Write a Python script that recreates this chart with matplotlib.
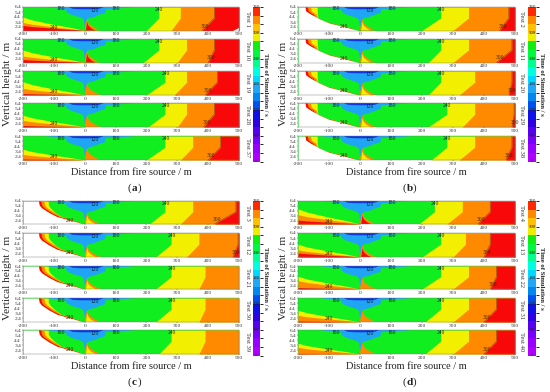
import numpy as np
import matplotlib
matplotlib.use('Agg')
import matplotlib.pyplot as plt
from matplotlib.colors import ListedColormap, BoundaryNorm

plt.rcParams['font.family'] = ['Liberation Serif', 'DejaVu Serif']
plt.rcParams['axes.unicode_minus'] = False

# test number, green edge top/bottom, yellow edge top/bottom, orange edge top/bottom
panel_a = [[1, 240, 200, 310, 280, 420, 380],
           [10, 240, 190, 330, 300, 420, 400],
           [19, 260, 200, 330, 290, 430, 390],
           [28, 260, 205, 330, 300, 420, 385],
           [37, 260, 200, 350, 310, 440, 400]]
panel_b = [[2, 260, 200, 350, 300, 480, 450],
           [11, 260, 220, 350, 300, 490, 440],
           [20, 260, 220, 370, 320, 490, 480],
           [29, 280, 220, 370, 330, 497, 490],
           [38, 280, 230, 370, 320, 490, 470]]
panel_c = [[3, 260, 210, 350, 310, 490, 420],
           [12, 280, 230, 370, 330, 497, 480],
           [21, 280, 230, 390, 370, 510, 510],
           [30, 280, 230, 390, 370, 510, 510],
           [39, 280, 240, 390, 370, 510, 490]]
panel_d = [[4, 240, 190, 330, 280, 420, 380],
           [13, 260, 200, 340, 300, 420, 400],
           [22, 260, 200, 350, 300, 440, 420],
           [31, 260, 210, 350, 300, 440, 400],
           [40, 260, 210, 350, 300, 440, 400]]

# heights at x=-200 of the yellow, orange and red layers (panels a and d)
wedge_a = [[4.4, 3.3, 2.7], [4.2, 3.0, 2.3], [4.3, 3.0, 2.0], [4.0, 3.0, 2.0], [3.8, 2.8, 1.9]]
wedge_d = [[4.8, 3.6, 2.5], [4.2, 3.1, 2.5], [4.3, 3.4, 2.0], [4.0, 3.0, 1.9], [3.8, 3.0, 1.8]]
wedge_x = [-200, -170, -100, -40, 0]
wedge_shape = [1.0, 0.78, 0.45, 0.2, 0.0]

# left white wedge (panels b and c)
left_y = [6.4, 5.6, 5.0, 4.0, 3.2, 2.6, 2.1, 1.7]
left_b = [-178, -175, -160, -130, -100, -60, -30, -5]
left_c = [-150, -148, -140, -115, -90, -55, -25, -5]
green_b = [-138, -138, -138, -135, -95, -55, -25, -5]
green_c = [-118, -118, -112, -95, -75, -45, -20, -5]

# smoke layer under the ceiling
cyan_x = [-130, -62, -58, -48, -30, -12, -3, 0, 3, 7, 14, 30, 50, 66, 68, 110, 165]
cyan_y = [6.4, 5.95, 5.4, 5.0, 4.6, 4.3, 3.9, 2.5, 2.5, 3.9, 4.2, 4.4, 4.9, 5.2, 5.95, 6.1, 6.4]
blue_x = [-52, -40, -15, 20, 48, 62]
blue_y = [6.4, 6.05, 5.95, 5.95, 6.05, 6.4]

# fire plume next to the source
plume_x = [0, 3, 8, 14, 30, 50]
plume_y = [1.7, 3.0, 4.0, 3.0, 2.3, 1.7]
flame_x = [4, 8, 12, 22, 35]
flame_y = [1.7, 3.4, 2.7, 2.1, 1.7]

x_ticks = [-200, -100, 0, 100, 200, 300, 400, 500]
y_ticks = [2.4, 3.4, 4.4, 5.4, 6.4]
cbar_ticks = [0, 60, 120, 180, 240, 300, 360]
levels = list(range(0, 361, 20))
level_colors = ['#b000ff', '#9800ff', '#7800ff', '#5800f0', '#3000e0', '#1010e8', '#0050f0',
                '#0088f0', '#20a8f8', '#00d8ff', '#00ffe0', '#00ff90', '#00f840', '#10ee10',
                '#eeee00', '#ffc000', '#ff8800', '#ff2800']

rows_top = [(7, 30.5), (39, 62.5), (71, 95), (103, 127), (136, 160)]
rows_bot = [(201, 224), (233, 257), (266, 289), (298, 322), (330, 354)]

GREEN = '#10ee20'
YELLOW = '#f2f000'
ORANGE = '#ff8a00'
RED = '#f80808'
CYAN = '#20a4f4'
BLUE = '#1038e0'
W, H = 550, 392
YMIN = 1.7

cmap = ListedColormap(level_colors)
norm = BoundaryNorm(levels, cmap.N)

fig = plt.figure(figsize=(W / 100, H / 100), dpi=100)


def px_axes(x0, x1, y0, y1):
    return fig.add_axes([x0 / W, 1 - y1 / H, (x1 - x0) / W, (y1 - y0) / H])


def draw_test(ax, row, i, kind):
    test, gt, gb, yt, yb, ot, ob = row
    ys = [6.4, 4.2, YMIN]
    ax.fill_between([-200, 500], YMIN, 6.4, color=GREEN, lw=0)
    ax.fill_betweenx(ys, [gt, gt, gb], 500, color=YELLOW, lw=0)
    ax.fill_betweenx(ys, [yt, yt, yb], 500, color=ORANGE, lw=0)
    if ot < 500:
        ax.fill_betweenx(ys, [ot, ot, ob], 500, color=RED, lw=0)
        ax.plot([ot, ot, ob], ys, color='#8a4a00', lw=0.4)
        ax.text(ob + 10, 2.6, '300', fontsize=4, color='#402000', ha='center', va='center')
    if test == 1:
        ax.fill([480, 500, 500], [YMIN, YMIN, 2.3], color='white', lw=0)

    # left side
    wx = np.array(wedge_x)
    if kind in 'ad':
        h = (wedge_a if kind == 'a' else wedge_d)[i]
        for height, col in zip(h, [YELLOW, ORANGE, RED]):
            top = YMIN + (height - YMIN) * np.array(wedge_shape)
            ax.fill_between(wx, YMIN, top, color=col, lw=0)
        ax.text(-100, 2.3, '240', fontsize=4, color='#402000', ha='center', va='center')
    else:
        edge = np.array(left_b if kind == 'b' else left_c)
        green = np.array(green_b if kind == 'b' else green_c)
        ax.fill_betweenx(left_y, edge, green, color=YELLOW, lw=0)
        ax.fill_betweenx(left_y, edge, np.minimum(edge + 18, green), color=ORANGE, lw=0)
        ax.fill_betweenx(left_y, edge, np.minimum(edge + 8, green), color=RED, lw=0)
        ax.fill_betweenx(left_y, -200, edge, color='white', lw=0)
        ax.text(edge[5] + 8, 2.5, '240', fontsize=4, color='#402000', ha='center', va='center')

    # ceiling smoke and plume
    ax.fill(cyan_x, cyan_y, color=CYAN, lw=0)
    ax.fill(blue_x, blue_y, color=BLUE, lw=0)
    ax.fill(plume_x, plume_y, color=ORANGE, lw=0)
    if i < 2 and kind in 'ad':
        ax.fill(flame_x, flame_y, color=RED, lw=0)
    elif kind in 'bc':
        ax.fill(flame_x, flame_y, color=YELLOW, lw=0)

    for txt, x, y in [('180', -78, 6.0), ('120', 32, 5.75), ('180', 102, 6.0), ('240', gt + 2, 5.95)]:
        ax.text(x, y, txt, fontsize=4, color='#102030', ha='center', va='center')

    ax.set_xlim(-200, 500)
    ax.set_ylim(YMIN, 6.4)
    ax.set_xticks(x_ticks)
    ax.set_yticks(y_ticks)
    ax.tick_params(labelsize=3.9, length=0.8, width=0.3, pad=0.6, colors='#333333')
    for s in ax.spines.values():
        s.set_linewidth(0.3)
        s.set_color('#777777')


def draw_panel(rows, wedge_kind, x0, x1, tops, bar_x, label):
    for i, (row, (y0, y1)) in enumerate(zip(rows, tops)):
        ax = px_axes(x0, x1, y0, y1)
        draw_test(ax, row, i, wedge_kind)
        fig.text((bar_x[0] - 6) / W, 1 - (y0 + y1) / 2 / H, 'Test %d' % row[0], rotation=-90,
                 fontsize=4.8, ha='center', va='center', color='#333333')

    # colorbar
    top, bottom = tops[0][0], tops[-1][1] + 1.5
    cax = px_axes(bar_x[0], bar_x[1], top, bottom)
    sm = plt.cm.ScalarMappable(norm=norm, cmap=cmap)
    cb = fig.colorbar(sm, cax=cax)
    cb.set_ticks([])
    cb.outline.set_visible(False)
    for v in cbar_ticks:
        cax.text(0.5, v, str(v), fontsize=3.5, ha='center', va='center', color='#222222',
                 transform=cax.get_yaxis_transform())

    mid_y = (top + bottom) / 2
    fig.text((bar_x[1] + 6) / W, 1 - mid_y / H, 'Time of Simulation / s', rotation=-90,
             fontsize=4.8, fontweight='bold', ha='center', va='center', color='#222222')
    fig.text((x0 - 15) / W, 1 - mid_y / H, 'Vertical height / m', rotation=90,
             fontsize=8.2, ha='center', va='center', color='#222222')
    fig.text((x0 + x1) / 2 / W, 1 - (bottom + 11) / H, 'Distance from fire source / m',
             fontsize=7.4, ha='center', va='center', color='#222222')
    fig.text((x0 + x1) / 2 / W, 1 - (bottom + 27) / H, '(', fontsize=8, ha='right', va='center',
             color='#222222')
    fig.text((x0 + x1) / 2 / W + 0.012, 1 - (bottom + 27) / H, ')', fontsize=8, ha='left', va='center',
             color='#222222')
    fig.text((x0 + x1) / 2 / W + 0.006, 1 - (bottom + 27) / H, label, fontsize=8, fontweight='bold',
             ha='center', va='center', color='#222222')


draw_panel(panel_a, 'a', 23, 239, rows_top, (253, 260), 'a')
draw_panel(panel_b, 'b', 298, 515, rows_top, (528, 536), 'b')
draw_panel(panel_c, 'c', 23, 239, rows_bot, (253, 260), 'c')
draw_panel(panel_d, 'd', 298, 515, rows_bot, (528, 536), 'd')

fig.savefig('out.png', dpi=100)
